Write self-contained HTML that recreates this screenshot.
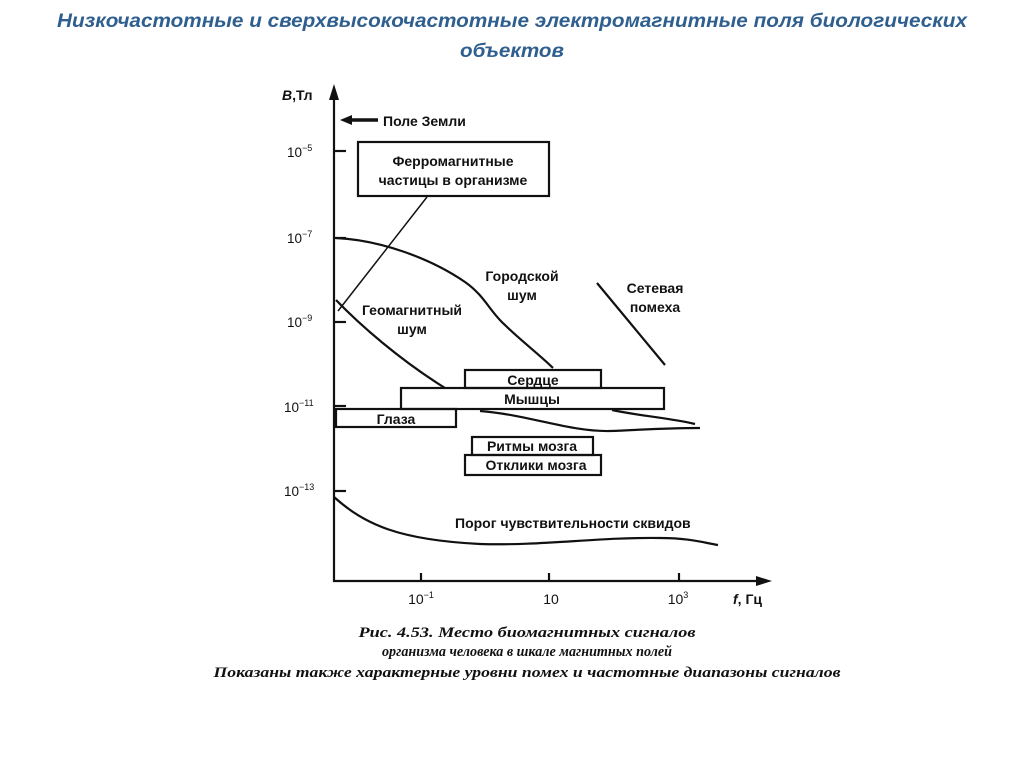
<!DOCTYPE html>
<html><head><meta charset="utf-8"><style>
html,body{margin:0;padding:0;background:#fff;width:1024px;height:767px;overflow:hidden}
</style></head><body>
<svg width="1024" height="767" viewBox="0 0 1024 767" xmlns="http://www.w3.org/2000/svg">
<g font-family="Liberation Sans, sans-serif" font-weight="bold" font-style="italic" fill="#2f5f8f" font-size="19" text-anchor="middle">
<text x="512" y="27" textLength="910" lengthAdjust="spacingAndGlyphs">Низкочастотные и сверхвысокочастотные электромагнитные поля биологических</text>
<text x="512" y="57" textLength="104" lengthAdjust="spacingAndGlyphs">объектов</text>
</g>
<g stroke="#111" fill="none" stroke-width="2.2">
<line x1="334" y1="95" x2="334" y2="582"/>
<line x1="333" y1="581" x2="762" y2="581"/>
<line x1="334" y1="151" x2="346" y2="151"/><line x1="334" y1="238" x2="346" y2="238"/><line x1="334" y1="322" x2="346" y2="322"/><line x1="334" y1="406" x2="346" y2="406"/><line x1="334" y1="491" x2="346" y2="491"/>
<line x1="421" y1="581" x2="421" y2="573"/><line x1="549" y1="581" x2="549" y2="573"/><line x1="679" y1="581" x2="679" y2="573"/>
<line x1="378" y1="120" x2="350" y2="120" stroke-width="3.5"/>
<rect x="358" y="142" width="191" height="54"/>
<line x1="427" y1="197" x2="338" y2="311" stroke-width="1.5"/>
<path d="M336 238 C380 240 430 258 465 282 C485 296 490 312 505 325 C520 340 540 355 553 368"/>
<path d="M336 300 C360 325 400 360 445 388"/>
<line x1="597" y1="283" x2="665" y2="365"/>
<rect x="465" y="370" width="136" height="18"/>
<rect x="401" y="388" width="263" height="21"/>
<rect x="336" y="409" width="120" height="18"/>
<path d="M480 411 C530 415 570 432 610 431 C640 430 660 428 700 428"/>
<path d="M612 410 C640 416 670 418 695 424"/>
<rect x="472" y="437" width="121" height="18"/>
<rect x="465" y="455" width="136" height="20"/>
<path d="M334 497 C365 525 400 540 480 544 C540 546 600 537 660 538 C690 538 705 543 718 545"/>
</g>
<polygon points="334,84 329,100 339,100" fill="#111"/>
<polygon points="772,581 756,576 756,586" fill="#111"/>
<polygon points="340,120 352,115 352,125" fill="#111"/>
<g font-family="Liberation Sans, sans-serif" fill="#111" font-size="14" font-weight="bold">
<text x="282" y="100"><tspan font-style="italic">B</tspan>,Тл</text>
<text x="383" y="126">Поле Земли</text>
<g font-size="13.5" font-weight="normal"><text x="287" y="157">10<tspan font-size="9" dy="-6">−5</tspan></text>
<text x="287" y="243">10<tspan font-size="9" dy="-6">−7</tspan></text>
<text x="287" y="327">10<tspan font-size="9" dy="-6">−9</tspan></text>
<text x="284" y="412">10<tspan font-size="9" dy="-6">−11</tspan></text>
<text x="284" y="496">10<tspan font-size="9" dy="-6">−13</tspan></text></g>
<g text-anchor="middle">
<text x="453" y="166">Ферромагнитные</text>
<text x="453" y="185">частицы в организме</text>
<text x="522" y="281">Городской</text><text x="522" y="300">шум</text>
<text x="655" y="293">Сетевая</text><text x="655" y="312">помеха</text>
<text x="412" y="315">Геомагнитный</text><text x="412" y="334">шум</text>
<text x="533" y="385">Сердце</text>
<text x="532" y="404">Мышцы</text>
<text x="396" y="424">Глаза</text>
<text x="532" y="451">Ритмы мозга</text>
<text x="536" y="470">Отклики мозга</text>
<g font-weight="normal"><text x="421" y="604">10<tspan font-size="9" dy="-6">−1</tspan></text>
<text x="551" y="604">10</text>
<text x="678" y="604">10<tspan font-size="9" dy="-6">3</tspan></text></g>
</g>
<text x="455" y="528">Порог чувствительности сквидов</text>
<text x="733" y="604"><tspan font-style="italic">f</tspan>, Гц</text>
</g>
<g font-family="Liberation Serif, serif" font-style="italic" font-weight="bold" fill="#111" font-size="14.5" text-anchor="middle">
<text x="527" y="637" textLength="337" lengthAdjust="spacingAndGlyphs">Рис. 4.53. Место биомагнитных сигналов</text>
<text x="527" y="656" textLength="290" lengthAdjust="spacingAndGlyphs">организма человека в шкале магнитных полей</text>
<text x="527" y="677" textLength="627" lengthAdjust="spacingAndGlyphs">Показаны также характерные уровни помех и частотные диапазоны сигналов</text>
</g>
</svg>
</body></html>
